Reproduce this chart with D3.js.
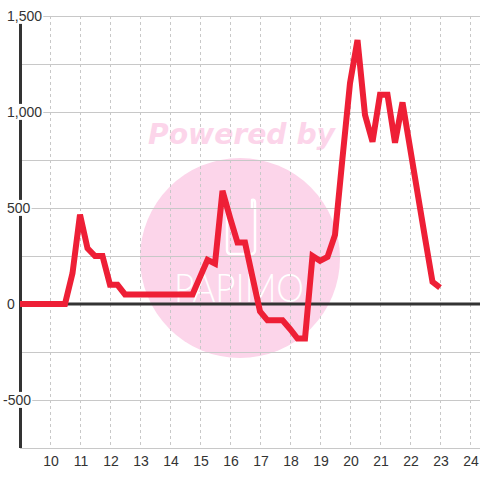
<!DOCTYPE html>
<html>
<head>
<meta charset="utf-8">
<script src="https://cdn.jsdelivr.net/npm/d3@7"></script>
<style>
  html, body { margin: 0; padding: 0; background: #fff; }
  svg { display: block; }
</style>
</head>
<body>
<svg id="chart" width="480" height="480"></svg>
<script>
// ---- data ----
const times = [9, 9.25, 9.5, 9.75, 10, 10.25, 10.5, 10.75, 11, 11.25, 11.5, 11.75,
  12, 12.25, 12.5, 12.75, 13, 13.25, 13.5, 13.75, 14, 14.25, 14.5, 14.75,
  15, 15.25, 15.5, 15.75, 16, 16.25, 16.5, 16.75, 17, 17.25, 17.5, 17.75,
  18, 18.25, 18.5, 18.75, 19, 19.25, 19.5, 19.75, 20, 20.25, 20.5, 20.75,
  21, 21.25, 21.5, 21.75, 22, 22.25, 22.5, 22.75, 23];
const values = [0, 0, 0, 0, 0, 0, 0, 160, 465, 290, 250, 250,
  100, 100, 50, 50, 50, 50, 50, 50, 50, 50, 50, 50,
  140, 230, 210, 590, 450, 320, 320, 140, -38, -85, -85, -85,
  -130, -180, -180, 250, 225, 245, 360, 760, 1150, 1375, 985, 845,
  1090, 1090, 840, 1050, 815, 580, 345, 115, 85];
const xTicks = [10, 11, 12, 13, 14, 15, 16, 17, 18, 19, 20, 21, 22, 23, 24];
const yGrid = [-750, -500, -250, 0, 250, 500, 750, 1000, 1250, 1500];
const yLabels = [-500, 0, 500, 1000, 1500];
const watermarkText = "Powered by";
const logoText = "PAPIMO";

// ---- layout ----
const W = 480, H = 480;
const svg = d3.select("#chart");
const x = d3.scaleLinear().domain([9, 24]).range([20, 470]);
const y = d3.scaleLinear().domain([-750, 1500]).range([448, 16]);
const font = "'Liberation Sans', Arial, sans-serif";

svg.append("rect").attr("width", W).attr("height", H).attr("fill", "#fff");

// ---- watermark ----
const wm = svg.append("g");
wm.append("circle").attr("cx", 240).attr("cy", 258).attr("r", 100).attr("fill", "#fcd5ea");
wm.append("text").attr("x", 148).attr("y", 144)
  .attr("font-family", "'DejaVu Sans', Verdana, sans-serif")
  .attr("font-weight", "bold").attr("font-style", "italic")
  .attr("font-size", 29).attr("fill", "#fcd5ea")
  .attr("textLength", 187).attr("lengthAdjust", "spacingAndGlyphs")
  .text(watermarkText);
wm.append("path")
  .attr("d", "M227,208 V250 Q227,254 231,254 H251 Q255,254 255,250 V203 Q255,199 252,200 L252,208")
  .attr("fill", "none").attr("stroke", "#fff").attr("stroke-width", 2.5).attr("stroke-linejoin", "round");
wm.append("text").attr("x", 174).attr("y", 302)
  .attr("font-family", "Lato, 'Open Sans', sans-serif").attr("font-weight", 300).attr("font-size", 40)
  .attr("fill", "#fff")
  .attr("textLength", 130).attr("lengthAdjust", "spacingAndGlyphs")
  .text(logoText);

// ---- grid ----
svg.append("g").selectAll("line").data(yGrid.filter(d => d !== 0)).join("line")
  .attr("x1", 20).attr("x2", W)
  .attr("y1", d => y(d) + 0.5).attr("y2", d => y(d) + 0.5)
  .attr("stroke", "#c8c8c8").attr("stroke-width", 1);
svg.append("g").selectAll("line").data(xTicks).join("line")
  .attr("x1", d => x(d) + 0.5).attr("x2", d => x(d) + 0.5)
  .attr("y1", 16).attr("y2", 448)
  .attr("stroke", "#c8c8c8").attr("stroke-width", 1).attr("stroke-dasharray", "3,3");

// zero line
svg.append("line").attr("x1", 20).attr("x2", W).attr("y1", y(0)).attr("y2", y(0))
  .attr("stroke", "#333").attr("stroke-width", 3);
// y axis line
svg.append("line").attr("x1", 20.5).attr("x2", 20.5).attr("y1", 16).attr("y2", 448)
  .attr("stroke", "#333").attr("stroke-width", 3);

// ---- data line ----
const pts = times.map((t, i) => [t, values[i]]);
svg.append("path").datum(pts)
  .attr("d", d3.line().x(d => x(d[0])).y(d => y(d[1])))
  .attr("fill", "none").attr("stroke", "#ee1f36").attr("stroke-width", 6)
  .attr("stroke-linejoin", "miter").attr("stroke-linecap", "butt");

// ---- y labels with white boxes ----
const fmt = d3.format(",");
const yl = svg.append("g");
yLabels.forEach(v => {
  const g = yl.append("g");
  const t = g.append("text")
    .attr("x", v < 0 ? 3 : 7).attr("y", y(v)).attr("dy", "0.35em")
    .attr("font-family", font).attr("font-size", 14).attr("fill", "#333")
    .text(v < 0 ? "-" + fmt(-v) : fmt(v));
  const b = t.node().getBBox();
  g.insert("rect", "text").attr("x", b.x - 1).attr("y", b.y)
    .attr("width", b.width + 2).attr("height", b.height).attr("fill", "#fff");
});

// ---- x labels ----
svg.append("g").selectAll("text").data(xTicks).join("text")
  .attr("x", d => x(d) + 1).attr("y", 466)
  .attr("text-anchor", "middle")
  .attr("font-family", font).attr("font-size", 14).attr("fill", "#333")
  .text(d => d);
</script>
</body>
</html>
